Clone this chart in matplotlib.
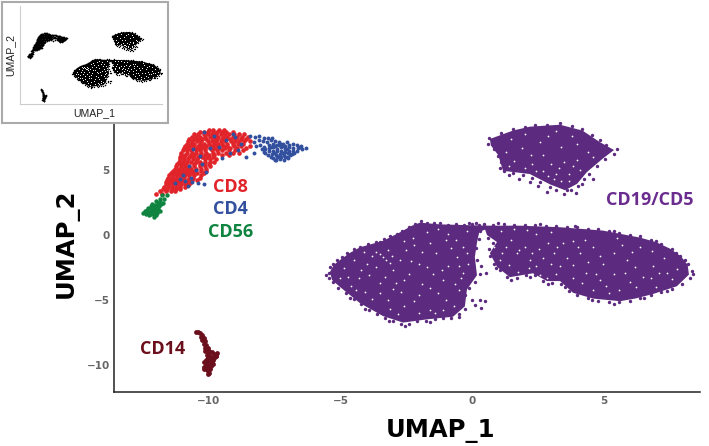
"""UMAP of cell populations, with the unlabelled black version as an inset.

The two big purple clusters are too dense to list every cell, so each one is an
outline read off the picture, plus grainy edge points and white gaps on top.
"""

import matplotlib
matplotlib.use("Agg")
import matplotlib.pyplot as plt
from matplotlib.patches import Polygon, Rectangle

W, H = 709, 446

# outlines of the dense CD19/CD5 clusters
LEFT_LOBE = [(-5.4, -2.85), (-5.25, -2.3), (-5.02, -1.93), (-4.66, -1.4), (-4.26, -0.95), (-3.38, -0.45),
             (-2.74, 0.2), (-2.3, 0.7), (-1.98, 0.95), (-1.22, 0.82), (0.55, 0.72), (0.55, 0.45), (0.28, 0.25),
             (0.19, -0.6), (0.11, -1.7), (0.19, -3.1), (-0.19, -4.2), (-0.27, -5.5), (-0.72, -6.3),
             (-1.71, -6.5), (-2.62, -6.75), (-3.38, -6.25), (-4.26, -5.25), (-5.02, -4.0), (-5.32, -3.47)]
RIGHT_LOBE = [(0.45, 0.72), (1.83, 0.72), (3.35, 0.6), (4.98, 0.34), (6.39, -0.2), (7.0, -0.55), (7.53, -1.05),
              (7.95, -1.65), (8.2, -2.3), (8.25, -3.05), (7.79, -3.95), (6.88, -4.55), (6.2, -4.9), (5.63, -5.1),
              (4.6, -4.9), (3.84, -4.45), (3.35, -3.55), (2.85, -3.55), (2.32, -2.95), (1.44, -3.25),
              (0.95, -2.45), (0.68, -1.4), (0.95, -0.54), (0.57, 0.0)]
TOP_LOBE = [(0.68, 7.4), (1.56, 8.05), (2.2, 8.35), (3.35, 8.5), (4.2, 8.05), (4.87, 7.15), (5.4, 6.55),
            (4.98, 5.9), (4.37, 4.85), (4.0, 3.95), (3.54, 3.45), (2.97, 3.9), (2.2, 4.7), (1.18, 4.95),
            (1.0, 6.15), (0.72, 6.9)]

# grainy cells along the cluster edges
PURPLE_EDGE = [(-5.45, -2.9), (-5.4, -2.5), (-5.3, -2.2), (-5.15, -1.95), (-4.95, -1.7), (-4.75, -1.4),
               (-4.5, -1.1), (-4.25, -0.95), (-3.95, -0.7), (-3.65, -0.55), (-3.35, -0.3), (-3.1, -0.1),
               (-2.85, 0.1), (-2.65, 0.3), (-2.4, 0.6), (-2.15, 0.85), (-1.95, 1.05), (-1.7, 0.95),
               (-1.45, 0.9), (-1.2, 0.95), (-0.9, 0.8), (-0.6, 0.85), (-0.3, 0.8), (0.0, 0.85), (0.25, 0.8),
               (0.3, 0.3), (0.25, -0.3), (0.15, -1.0), (0.2, -1.9), (0.35, -2.4), (0.3, -3.0), (0.55, -2.9),
               (0.1, -3.6), (-0.1, -4.1), (-0.25, -4.6), (0.0, -5.0), (0.3, -5.0), (0.5, -5.1), (0.1, -5.4),
               (0.35, -5.6), (-0.25, -5.7), (-0.5, -6.1), (-0.8, -6.4), (-1.1, -6.4), (-1.4, -6.5),
               (-1.75, -6.6), (-2.1, -6.65), (-2.4, -6.85), (-2.7, -6.85), (-3.0, -6.6), (-3.3, -6.4),
               (-3.6, -6.1), (-3.9, -5.8), (-4.2, -5.35), (-4.5, -4.95), (-4.8, -4.5), (-5.1, -4.1),
               (-5.3, -3.6), (-5.45, -3.3), (-5.55, -3.1), (-5.3, -2.65), (-4.85, -1.85), (-4.0, -0.9),
               (-3.5, -0.55), (-2.95, -0.15), (-2.25, 0.55), (-1.9, 0.85), (-0.1, 0.95), (0.15, 0.95),
               (-0.5, -6.3), (-1.6, -6.7), (-2.55, -7.0), (-3.15, -6.65), (-4.05, -5.7), (-4.65, -4.85),
               (0.45, 0.85), (0.8, 0.8), (1.2, 0.85), (1.6, 0.8), (2.0, 0.8), (2.4, 0.75), (2.8, 0.72),
               (3.2, 0.7), (3.6, 0.62), (4.0, 0.58), (4.4, 0.5), (4.8, 0.45), (5.2, 0.3), (5.6, 0.15),
               (6.0, 0.0), (6.4, -0.1), (6.8, -0.4), (7.2, -0.7), (7.6, -1.05), (7.9, -1.6), (8.2, -2.2),
               (8.35, -2.8), (8.3, -3.3), (8.0, -3.8), (7.6, -4.15), (7.2, -4.4), (6.8, -4.65), (6.4, -4.85),
               (6.0, -5.1), (5.6, -5.2), (5.2, -5.15), (4.8, -5.05), (4.4, -4.85), (4.0, -4.6), (3.7, -4.3),
               (3.4, -3.8), (3.05, -3.7), (2.7, -3.55), (2.4, -3.1), (2.05, -3.1), (1.7, -3.35), (1.35, -3.25),
               (1.05, -2.7), (0.85, -2.2), (0.7, -1.6), (0.65, -1.1), (0.8, -0.6), (0.62, -0.2),
               (1.0, 0.9), (2.6, 0.85), (3.9, 0.7), (5.4, 0.3), (7.0, -0.45), (7.75, -1.4), (8.1, -1.9), (8.4, -3.0),
               (7.4, -4.3), (6.55, -4.85), (5.4, -5.3), (4.55, -5.0), (3.55, -4.0), (2.9, -3.8), (2.2, -3.25),
               (1.5, -3.45), (0.9, -2.55),
               (0.65, 7.5), (0.62, 7.05), (0.85, 6.6), (0.98, 6.1), (1.1, 5.6), (1.2, 4.9), (1.55, 4.75),
               (1.95, 4.65), (2.3, 4.4), (2.6, 4.1), (2.95, 3.7), (3.2, 3.45), (3.5, 3.15), (3.75, 3.5),
               (4.05, 3.75), (4.25, 4.3), (4.45, 4.7), (4.75, 5.3), (5.05, 5.85), (5.4, 6.25), (5.5, 6.6),
               (5.1, 6.9), (4.85, 7.3), (4.55, 7.7), (4.2, 8.15), (3.8, 8.4), (3.35, 8.6), (2.85, 8.45),
               (2.4, 8.45), (2.0, 8.35), (1.55, 8.15), (1.1, 7.85), (1.4, 4.6), (1.8, 4.35), (2.2, 4.1),
               (2.5, 3.75), (2.85, 3.35), (3.6, 3.5), (3.95, 3.2), (4.2, 3.9), (4.6, 4.35), (1.05, 5.2)]

# white gaps between cells inside the clusters
WHITE_GAPS = [(-3.5, -1.5), (-3.25, -1.9), (-3.65, -1.3), (-4.1, -1.3), (-3.2, -1.15), (-4.2, -2.7), (-5.0, -3.3),
              (-3.5, -3.7), (-3.8, -4.9), (-1.1, -3.5), (-2.0, -4.6), (-1.6, -5.8), (-1.4, -6.0), (-2.2, -0.8),
              (-0.6, -0.4), (-1.35, -1.4), (-0.5, -2.4), (-0.2, -1.4), (-2.75, -1.9), (-2.5, -1.15), (-4.5, -1.9),
              (-2.9, -3.7), (-2.0, -2.2), (-2.4, -3.0), (-0.9, -2.4), (-3.2, -5.0), (-2.6, -5.5), (-0.5, -4.2),
              (-1.5, -3.0), (-4.6, -3.9), (-3.0, -2.7), (-1.0, -5.0), (-1.9, -3.8), (-3.9, -3.1), (-2.7, -4.4),
              (-0.8, -1.0), (-1.7, 0.2), (-0.9, 0.1), (-0.2, 0.3), (-2.3, -2.0), (-4.0, -2.2), (-0.4, -3.3),
              (-3.4, -1.7), (-3.05, -1.6), (-3.8, -1.6), (-3.1, -2.15), (-4.3, -3.35), (-4.85, -2.55), (-4.4, -4.2),
              (-3.65, -2.5), (-3.3, -3.25), (-3.0, -4.15), (-3.5, -4.5), (-3.1, -5.7), (-2.2, -5.1), (-2.0, -6.0),
              (-1.1, -5.75), (-0.7, -5.5), (-1.3, -4.5), (-1.6, -4.1), (-1.15, -2.7), (-0.55, -1.7), (-1.0, -0.4),
              (-1.6, -0.6), (-1.9, -1.3), (-2.25, -0.2), (-0.35, -0.9), (-1.7, -2.5), (-2.6, -3.45), (-0.65, -3.75),
              (-0.35, -2.95), (-4.7, -3.2), (-4.05, -4.4), (-2.8, -6.1), (-0.15, -2.2), (-1.3, 0.5), (-2.6, -0.5),
              (1.3, -0.9), (1.8, -1.15), (2.3, -1.4), (1.7, -1.4), (2.45, -2.4), (2.2, -1.9), (2.85, -3.3),
              (2.6, -3.1), (3.85, -0.5), (4.6, -0.9), (3.1, -1.4), (3.35, -2.4), (3.85, -2.3), (4.35, -2.95),
              (5.0, -2.2), (5.4, -1.4), (5.9, -1.9), (6.4, -0.9), (6.9, -2.4), (7.4, -2.95), (5.6, -4.2),
              (6.25, -4.0), (7.0, -4.0), (4.1, -1.4), (4.85, -3.5), (7.8, -2.6), (3.45, -0.6), (6.5, -3.2),
              (5.2, -4.5), (4.6, -4.2), (1.1, 0.3), (1.6, 0.45), (3.0, 0.2), (2.9, -0.6), (5.5, -0.2),
              (4.2, -3.7), (1.4, -2.3), (3.2, -3.0), (2.0, -0.95), (2.55, -1.05), (1.5, -0.4), (1.15, -1.4),
              (2.7, -1.75), (3.0, -2.2), (2.15, -2.55), (1.75, -2.85), (1.05, -1.9), (3.25, -0.9), (3.6, -1.8),
              (4.3, -0.4), (4.85, -1.6), (5.7, -0.8), (6.1, -1.3), (6.85, -1.2), (7.3, -1.8), (7.6, -3.4),
              (6.2, -2.5), (5.4, -3.0), (5.1, -3.9), (4.4, -2.1), (6.0, -3.6), (6.8, -3.3), (7.1, -2.9),
              (5.8, -2.9), (4.7, -3.0), (3.85, -3.3), (4.05, -0.95), (2.45, 0.1), (2.1, 0.4), (0.85, -0.95),
              (1.5, 7.4), (2.0, 7.8), (2.6, 7.2), (3.2, 8.0), (1.9, 6.7), (2.7, 6.2), (3.4, 6.8), (4.0, 7.0),
              (4.4, 6.4), (4.0, 5.8), (3.5, 5.6), (3.0, 5.5), (2.3, 5.5), (1.6, 5.7), (3.2, 4.7), (3.7, 4.7),
              (3.1, 4.3), (2.7, 4.9), (4.1, 5.0), (1.3, 6.4), (4.6, 6.0), (3.7, 4.2), (2.9, 4.55), (3.4, 4.15),
              (3.3, 5.15), (3.85, 5.35), (2.45, 4.9), (2.0, 5.2), (1.4, 5.3), (2.9, 7.6), (3.8, 7.6), (2.25, 6.2)]

# CD8 cells, one list of x per row
CD8_Y = [8.1, 7.92, 7.75, 7.57, 7.4, 7.22, 7.05, 6.87, 6.7, 6.52, 6.35, 6.17, 6.0, 5.82, 5.65, 5.47, 5.3, 5.12,
         4.95, 4.77, 4.6, 4.42, 4.25, 4.07, 3.9, 3.72, 3.55, 3.37, 3.18]
CD8_X = [[-10.0, -9.85, -9.6, -9.42],
         [-10.35, -10.2, -10.05, -9.85, -9.7, -9.5, -9.35, -9.1],
         [-10.55, -10.4, -10.2, -10.05, -9.9, -9.72, -9.55, -9.4, -9.25, -9.05, -8.85, -8.65],
         [-10.65, -10.5, -10.35, -10.15, -9.95, -9.8, -9.65, -9.45, -9.3, -9.1, -8.95, -8.75, -8.52],
         [-10.75, -10.55, -10.4, -10.25, -10.1, -9.85, -9.7, -9.5, -9.35, -9.2, -9.0, -8.8, -8.6],
         [-10.8, -10.65, -10.45, -10.3, -10.05, -9.9, -9.75, -9.55, -9.4, -9.15, -9.0, -8.85, -8.65, -8.45],
         [-10.85, -10.7, -10.55, -10.35, -10.2, -10.0, -9.8, -9.65, -9.5, -9.3, -9.1, -8.9, -8.7],
         [-10.9, -10.75, -10.6, -10.4, -10.25, -10.1, -9.9, -9.7, -9.45, -9.3, -9.05, -8.8, -8.45],
         [-10.95, -10.8, -10.6, -10.45, -10.3, -10.15, -9.95, -9.8, -9.6, -9.4, -9.2, -8.95, -8.6],
         [-11.0, -10.85, -10.7, -10.5, -10.35, -10.15, -9.9, -9.7, -9.5, -9.25, -9.0, -8.7],
         [-11.05, -10.85, -10.65, -10.5, -10.3, -10.1, -9.85, -9.65, -9.35, -9.1, -8.85],
         [-11.05, -10.9, -10.7, -10.55, -10.35, -10.15, -10.0, -9.8, -9.5, -9.25],
         [-11.1, -10.95, -10.75, -10.6, -10.4, -10.25, -10.05, -9.85],
         [-11.1, -10.95, -10.8, -10.6, -10.45, -10.15, -9.95, -9.75],
         [-11.15, -11.0, -10.85, -10.7, -10.5, -10.35, -10.15, -9.95, -9.8],
         [-11.2, -11.05, -10.9, -10.55, -10.35, -10.2, -10.0],
         [-11.25, -11.05, -10.9, -10.75, -10.55, -10.35, -10.15, -9.95],
         [-11.3, -11.15, -11.0, -10.85, -10.7, -10.5, -10.3, -10.1],
         [-11.35, -11.2, -11.05, -10.9, -10.75, -10.55, -10.3, -10.1],
         [-11.45, -11.3, -11.15, -11.0, -10.85, -10.65, -10.45, -10.2],
         [-11.5, -11.35, -11.2, -11.05, -10.9, -10.75, -10.55, -10.3],
         [-11.55, -11.4, -11.25, -11.1, -10.95, -10.75, -10.6, -10.35],
         [-11.6, -11.45, -11.3, -11.15, -11.0, -10.8, -10.65, -10.45],
         [-11.65, -11.5, -11.35, -11.2, -11.05, -10.85, -10.7],
         [-11.65, -11.5, -11.35, -11.2, -11.05, -10.9, -10.75],
         [-11.7, -11.55, -11.4, -11.25, -11.1, -10.9],
         [-11.75, -11.6, -11.4, -11.25, -11.1],
         [-11.85, -11.65, -11.45, -11.3],
         [-12.0, -11.8]]

CD4_X = [-8.44, -8.25, -8.1, -7.9, -7.75, -7.6, -8.3, -8.1, -7.95, -7.8, -7.65, -7.5, -7.35, -7.2, -7.05,
         -8.2, -8.05, -7.9, -7.7, -7.55, -7.4, -7.25, -7.1, -6.95, -6.8, -6.65, -6.5, -8.0, -7.85, -7.7,
         -7.55, -7.4, -7.25, -7.1, -6.95, -6.8, -6.6, -6.45, -7.9, -7.7, -7.55, -7.4, -7.25, -7.1, -6.95,
         -6.8, -6.65, -7.75, -7.6, -7.45, -7.3, -7.15, -7.0, -6.85, -7.55, -7.4, -7.25, -7.1, -7.45,
         -7.65, -7.5, -7.35, -7.2, -7.05, -6.9, -6.75, -6.55, -7.85, -7.65, -7.5, -7.35, -7.2, -7.05, -6.9,
         -7.5, -7.3, -7.15, -7.0, -6.3,
         -10.2, -9.8, -9.35, -9.1, -8.8, -9.6, -9.2, -8.9, -10.6, -10.35, -9.95, -9.5, -10.75, -10.25,
         -10.5, -10.1, -11.0, -10.7, -11.1, -10.9, -10.65, -10.4, -10.2, -11.3, -10.8, -8.6, -8.3, -9.0]
CD4_Y = [7.65, 7.55, 7.6, 7.5, 7.45, 7.5, 7.2, 7.3, 7.25, 7.15, 7.3, 7.25, 7.2, 7.05, 7.15,
         6.85, 6.95, 6.8, 6.95, 7.0, 6.9, 7.0, 6.85, 6.95, 7.0, 6.9, 6.85, 6.6, 6.65, 6.7,
         6.75, 6.6, 6.75, 6.65, 6.75, 6.7, 6.7, 6.65, 6.4, 6.45, 6.5, 6.45, 6.5, 6.4, 6.5,
         6.45, 6.5, 6.2, 6.25, 6.15, 6.25, 6.2, 6.3, 6.25, 5.95, 6.0, 6.05, 6.0, 5.8,
         6.8, 6.85, 6.9, 6.85, 6.6, 6.25, 6.3, 6.8, 6.3, 6.05, 6.35, 6.1, 6.3, 6.05, 6.15,
         5.75, 5.85, 5.8, 5.9, 6.7,
         7.95, 7.65, 7.3, 7.8, 7.0, 6.8, 6.3, 6.55, 6.6, 6.1, 6.7, 5.9, 5.3, 5.5,
         5.0, 4.85, 4.6, 4.4, 4.3, 4.15, 4.05, 4.0, 3.95, 4.0, 3.75, 6.0, 6.35, 7.55]

CD56_X = [-12.5, -12.4, -12.3, -12.2, -12.1, -12.0, -12.45, -12.35, -12.25, -12.15, -12.05, -11.95, -12.3,
          -12.2, -12.1, -12.0, -11.9, -12.15, -12.05, -11.95, -11.85, -11.75, -12.0, -11.85, -11.7, -11.6,
          -11.8, -12.1, -12.38, -12.28, -12.18, -12.08, -11.98, -11.88, -12.22, -12.12, -12.02, -11.92, -11.82]
CD56_Y = [1.7, 1.6, 1.7, 1.6, 1.75, 1.55, 1.85, 1.9, 1.8, 1.95, 1.85, 2.0, 2.1,
          2.05, 2.2, 2.15, 2.25, 2.4, 2.35, 2.45, 2.55, 2.5, 2.65, 2.75, 2.8, 3.05, 3.1, 1.4,
          1.78, 1.58, 1.9, 1.62, 1.7, 1.85, 2.25, 1.98, 1.95, 2.2, 2.4]

CD14_X = [-10.5, -10.42, -10.33, -10.25, -10.3, -10.2, -10.25, -10.15, -10.18, -10.1, -10.15, -10.05, -10.08,
          -9.98, -10.02, -9.9, -9.95, -9.8, -9.88, -9.75, -9.95, -9.85, -10.0, -9.9, -10.08, -9.98, -10.1, -10.0,
          -10.08, -9.95, -10.05, -9.98, -10.02, -10.15, -10.08, -10.02, -10.12, -10.05, -9.7, -9.72, -9.8, -10.18,
          -10.12, -10.05, -10.18, -10.1, -10.2, -9.92, -9.85]
CD14_Y = [-7.5, -7.45, -7.55, -7.7, -7.85, -7.95, -8.1, -8.2, -8.4, -8.5, -8.7, -8.7, -8.9,
          -8.95, -9.15, -9.05, -9.3, -9.2, -9.45, -9.35, -9.6, -9.6, -9.8, -9.8, -9.9, -10.0, -10.15, -10.2,
          -10.35, -10.35, -10.5, -10.65, -10.75, -8.95, -9.25, -9.5, -9.65, -9.4, -9.1, -9.3, -9.5, -9.8,
          -9.95, -9.7, -10.15, -10.35, -10.3, -10.1, -9.95]

XTICKS = [-10, -5, 0, 5]
YTICKS = [-10, -5, 0, 5]

PURPLE = "#5c2a7e"
RED = "#e1232a"
BLUE = "#33509f"
GREEN = "#0f8440"
MAROON = "#6b0f1c"


def axes_at(fig, left, top, right, bottom):
    """Make axes from pixel edges measured from the top-left corner."""
    return fig.add_axes([left / W, 1 - bottom / H, (right - left) / W, (bottom - top) / H])


def draw_purple(ax, color, edge_size, gap_size):
    for outline in (LEFT_LOBE, RIGHT_LOBE, TOP_LOBE):
        ax.add_patch(Polygon(outline, closed=True, facecolor=color, edgecolor="none", zorder=1))
    ax.scatter(*zip(*PURPLE_EDGE), s=edge_size, c=color, linewidths=0, zorder=2)
    ax.scatter(*zip(*WHITE_GAPS), s=gap_size, c="white", linewidths=0, zorder=3)


def main():
    plt.rcParams["font.family"] = "DejaVu Sans"
    fig = plt.figure(figsize=(W / 100, H / 100), dpi=100, facecolor="white")

    ax = axes_at(fig, 114, 122, 700, 392)
    ax.set_xlim(-13.61, 8.67)
    ax.set_ylim(-12.1, 8.71)
    for side in ("top", "right"):
        ax.spines[side].set_visible(False)
    for side in ("left", "bottom"):
        ax.spines[side].set_color("#222222")
        ax.spines[side].set_linewidth(1.1)
    ax.set_xticks(XTICKS, [f"\u2212{abs(t)}" if t < 0 else str(t) for t in XTICKS])
    ax.set_yticks(YTICKS, [f"\u2212{abs(t)}" if t < 0 else str(t) for t in YTICKS])
    ax.tick_params(length=0, pad=3, labelsize=7.5, labelcolor="#666666")
    for label in ax.get_xticklabels() + ax.get_yticklabels():
        label.set_fontweight("bold")

    draw_purple(ax, PURPLE, 6, 1.6)

    cd8_x = [x for row in CD8_X for x in row]
    cd8_y = [y for y, row in zip(CD8_Y, CD8_X) for _ in row]
    ax.scatter(cd8_x, cd8_y, s=11, c=RED, linewidths=0, zorder=4)
    ax.scatter(CD4_X, CD4_Y, s=8, c=BLUE, linewidths=0, zorder=5)
    ax.scatter(CD56_X, CD56_Y, s=10, c=GREEN, linewidths=0, zorder=5)
    ax.scatter(CD14_X, CD14_Y, s=12, c=MAROON, linewidths=0, zorder=5)

    labels = [("CD8", 230, 187, RED), ("CD4", 230, 209, BLUE), ("CD56", 231, 232, GREEN),
              ("CD14", 163, 349, MAROON), ("CD19/CD5", 650, 200, "#6a2c8e")]
    for text, px, py, color in labels:
        fig.text(px / W, 1 - py / H, text, color=color, ha="center", va="center",
                 fontsize=13, fontweight="bold", family="Open Sans")

    fig.text(440 / W, 1 - 431 / H, "UMAP_1", ha="center", va="center", fontsize=17.5, fontweight="bold")
    fig.text(67 / W, 1 - 243 / H, "UMAP_2", ha="center", va="center", rotation=90, fontsize=17.5, fontweight="bold")

    # inset: same cells, all black
    fig.add_artist(Rectangle((2 / W, 1 - 123 / H), 166 / W, 121 / H, transform=fig.transFigure,
                             facecolor="white", edgecolor="#aaaaaa", linewidth=1.5, zorder=5))
    inset = axes_at(fig, 20, 6, 162, 104)
    inset.set_zorder(6)
    inset.patch.set_alpha(0)
    inset.set_xlim(-13.7, 8.45)
    inset.set_ylim(-11.5, 15.7)
    inset.set_xticks([])
    inset.set_yticks([])
    for side in ("top", "right"):
        inset.spines[side].set_visible(False)
    for side in ("left", "bottom"):
        inset.spines[side].set_color("#cccccc")
        inset.spines[side].set_linewidth(0.8)
    draw_purple(inset, "black", 1, 0.5)
    inset.scatter(cd8_x, cd8_y, s=1.5, c="black", linewidths=0, zorder=4)
    inset.scatter(CD4_X, CD4_Y, s=1.5, c="black", linewidths=0, zorder=4)
    inset.scatter(CD56_X, CD56_Y, s=1.5, c="black", linewidths=0, zorder=4)
    inset.scatter(CD14_X, CD14_Y, s=1.5, c="black", linewidths=0, zorder=4)
    fig.text(94 / W, 1 - 113 / H, "UMAP_1", ha="center", va="center", fontsize=7.6,
             family="Liberation Sans", color="#222222", zorder=7)
    fig.text(10 / W, 1 - 55 / H, "UMAP_2", ha="center", va="center", rotation=90, fontsize=7.6,
             family="Liberation Sans", color="#222222", zorder=7)

    fig.savefig("out.png", dpi=100, facecolor="white")
    plt.close(fig)


if __name__ == "__main__":
    main()
